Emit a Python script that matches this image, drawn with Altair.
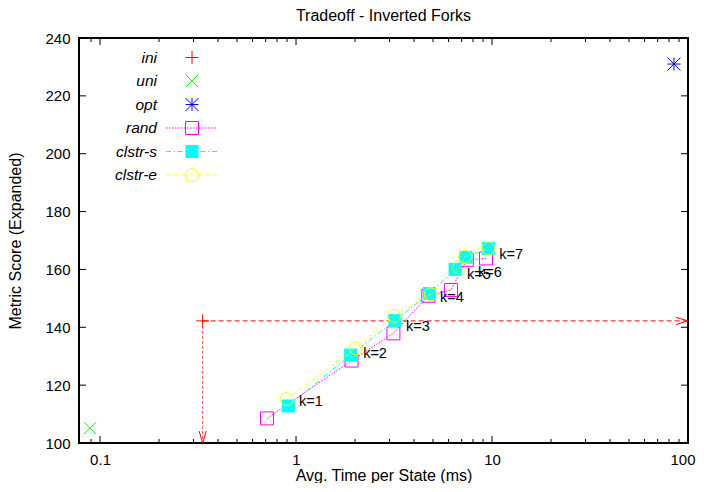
import altair as alt
import pandas as pd

# ---------------- data ----------------
k_labels = ["k=1", "k=2", "k=3", "k=4", "k=5", "k=6", "k=7"]
k_index = [1, 2, 3, 4, 5, 6, 7]

rand_time = [0.711, 1.92, 3.14, 4.73, 6.18, 7.43, 9.32]
rand_score = [108.5, 128.5, 137.9, 150.9, 152.9, 163.3, 163.8]

clstr_s_time = [0.913, 1.90, 3.20, 4.79, 6.48, 7.37, 9.58]
clstr_s_score = [112.8, 130.4, 142.3, 151.7, 160.0, 164.2, 167.3]

clstr_e_time = [0.897, 2.02, 3.16, 4.87, 6.81, 7.28, 9.58]
clstr_e_score = [115.2, 132.7, 144.0, 151.4, 160.7, 164.4, 167.3]

label_time = [1.036, 2.20, 3.64, 5.43, 7.45, 8.48, 10.9]
label_score = [114.2, 130.7, 140.2, 150.0, 158.1, 158.9, 165.0]

ini_time, ini_score = [0.334], [142.2]
uni_time, uni_score = [0.0889], [105.1]
opt_time, opt_score = [84.8], [231.0]

# arrow end values (edges of the axis ranges)
arrow_x_end = [100]
arrow_y_end = [100]

legend_names = ["ini", "uni", "opt", "rand", "clstr-s", "clstr-e"]

x_domain = [0.0781, 100]
y_domain = [100, 240]
x_major = [0.1, 1, 10, 100]
x_minor = [0.09, 0.2, 0.3, 0.4, 0.5, 0.6, 0.7, 0.8, 0.9,
           2, 3, 4, 5, 6, 7, 8, 9,
           20, 30, 40, 50, 60, 70, 80, 90]
y_major = [100, 120, 140, 160, 180, 200, 220, 240]

# ---------------- styling ----------------
W, H = 609, 405
FONT = "Liberation Sans"
FS_TICK = 15
FS_TITLE = 16
FS_LAB = 14.5
FS_KEY = 15.5
RED, GREEN, BLUE = "#ff0000", "#00ff00", "#0000ff"
MAGENTA, CYAN, YELLOW = "#ff00ff", "#00ffff", "#ffff00"
PLUS = "M-1,0L1,0M0,-1L0,1"
CROSS = "M-1,-1L1,1M-1,1L1,-1"
STAR = PLUS + CROSS
ARROW_RIGHT = "M-1,-0.3L0,0L-1,0.3"
ARROW_DOWN = "M-0.3,-1L0,0L0.3,-1"
DASH_RAND = [1.5, 1.5]
DASH_S = [5, 2.5, 1.5, 2.5]
DASH_E = [3, 2, 1, 2]

xscale = alt.Scale(type="log", domain=x_domain, nice=False)
yscale = alt.Scale(domain=y_domain, nice=False, zero=False)
common_axis = dict(ticks=False, domain=False, grid=False,
                   labelFont=FONT, labelFontSize=FS_TICK, labelColor="black",
                   titleFont=FONT, titleFontSize=FS_TITLE, titleFontWeight="normal",
                   titleColor="black")
xaxis = alt.Axis(values=x_major, format="~g", title="Avg. Time per State (ms)",
                 labelPadding=9, titlePadding=0, labelFlush=1, labelFlushOffset=7,
                 **common_axis)
yaxis = alt.Axis(values=y_major, title="Metric Score (Expanded)",
                 labelPadding=9, titlePadding=21, **common_axis)


def X(field="time"):
    return alt.X(f"{field}:Q", scale=xscale, axis=xaxis)


def Y(field="score", axis=None):
    return alt.Y(f"{field}:Q", scale=yscale, axis=axis)


def series_df(t, s):
    return pd.DataFrame({"time": t, "score": s, "k": k_index[:len(t)]})


rand_df = series_df(rand_time, rand_score)
s_df = series_df(clstr_s_time, clstr_s_score)
e_df = series_df(clstr_e_time, clstr_e_score)
lab_df = pd.DataFrame({"time": label_time, "score": label_score, "text": k_labels})
ini_df = pd.DataFrame({"time": ini_time, "score": ini_score,
                       "xend": arrow_x_end, "yend": arrow_y_end})
uni_df = pd.DataFrame({"time": uni_time, "score": uni_score})
opt_df = pd.DataFrame({"time": opt_time, "score": opt_score})

layers = []

# ticks (inward, mirrored)
xmaj_df = pd.DataFrame({"time": x_major})
xmin_df = pd.DataFrame({"time": x_minor})
ymaj_df = pd.DataFrame({"score": y_major})
tick = dict(color="black", strokeWidth=1)
layers.append(alt.Chart(xmaj_df).mark_rule(**tick).encode(
    x=X(), y=alt.value(H), y2=alt.value(H - 7)))
layers.append(alt.Chart(xmaj_df).mark_rule(**tick).encode(
    x=X(), y=alt.value(0), y2=alt.value(7)))
layers.append(alt.Chart(xmin_df).mark_rule(**tick).encode(
    x=X(), y=alt.value(H), y2=alt.value(H - 4)))
layers.append(alt.Chart(xmin_df).mark_rule(**tick).encode(
    x=X(), y=alt.value(0), y2=alt.value(4)))
layers.append(alt.Chart(ymaj_df).mark_rule(**tick).encode(
    y=Y(axis=yaxis), x=alt.value(0), x2=alt.value(7)))
layers.append(alt.Chart(ymaj_df).mark_rule(**tick).encode(
    y=Y(), x=alt.value(W), x2=alt.value(W - 7)))

# ini with arrows
layers.append(alt.Chart(ini_df).mark_rule(color=RED, strokeWidth=1, strokeDash=[5, 3]).encode(
    x=X(), x2="xend:Q", y=Y()))
layers.append(alt.Chart(ini_df).mark_rule(color=RED, strokeWidth=1, strokeDash=[3, 2], opacity=0.75).encode(
    x=X(), y=Y(), y2="yend:Q"))
layers.append(alt.Chart(ini_df).mark_point(shape=ARROW_RIGHT, size=576, filled=False, color=RED,
                                           strokeWidth=1, opacity=1).encode(x=X("xend"), y=Y()))
layers.append(alt.Chart(ini_df).mark_point(shape=ARROW_DOWN, size=576, filled=False, color=RED,
                                           strokeWidth=1, opacity=1).encode(x=X(), y=Y("yend")))
layers.append(alt.Chart(ini_df).mark_point(shape=PLUS, size=169, filled=False, color=RED,
                                           strokeWidth=1, opacity=1).encode(x=X(), y=Y()))
layers.append(alt.Chart(uni_df).mark_point(shape=CROSS, size=144, filled=False, color=GREEN,
                                           strokeWidth=1, opacity=1).encode(x=X(), y=Y()))
layers.append(alt.Chart(opt_df).mark_point(shape=STAR, size=169, filled=False, color=BLUE,
                                           strokeWidth=1, opacity=1).encode(x=X(), y=Y()))

# series
layers.append(alt.Chart(rand_df).mark_line(color=MAGENTA, strokeWidth=1, strokeDash=DASH_RAND).encode(
    x=X(), y=Y(), order="k:Q"))
layers.append(alt.Chart(rand_df).mark_point(shape="square", size=169, filled=False, color=MAGENTA,
                                            strokeWidth=1, opacity=1).encode(x=X(), y=Y()))
layers.append(alt.Chart(s_df).mark_line(color=CYAN, strokeWidth=1, strokeDash=DASH_S).encode(
    x=X(), y=Y(), order="k:Q"))
layers.append(alt.Chart(s_df).mark_point(shape="square", size=169, filled=True, color=CYAN,
                                         opacity=1).encode(x=X(), y=Y()))
layers.append(alt.Chart(e_df).mark_line(color=YELLOW, strokeWidth=1, strokeDash=DASH_E).encode(
    x=X(), y=Y(), order="k:Q"))
layers.append(alt.Chart(e_df).mark_point(shape="circle", size=169, filled=False, color=YELLOW,
                                         strokeWidth=1, opacity=1).encode(x=X(), y=Y()))

# k labels
layers.append(alt.Chart(lab_df).mark_text(align="left", baseline="middle", font=FONT,
                                          fontSize=FS_LAB, color="black").encode(
    x=X(), y=Y(), text="text:N"))

# ---------------- manual key (top-left) ----------------
leg_df = pd.DataFrame({"name": legend_names})
leg_scale = alt.Scale(type="point", domain=legend_names, range=[19.5, 137], padding=0)
LY = alt.Y("name:N", scale=leg_scale, axis=None)
leg_text_x, leg_sym_x, leg_l0, leg_l1 = 78, 113, 87, 138


def leg(name):
    return alt.Chart(leg_df).transform_filter(alt.datum.name == name)


layers.append(alt.Chart(leg_df).mark_text(align="right", baseline="middle", font=FONT, fontSize=FS_KEY,
                                          fontStyle="italic", color="black").encode(
    y=LY, x=alt.value(leg_text_x), text="name:N"))
for name, dash, col in [("rand", DASH_RAND, MAGENTA), ("clstr-s", DASH_S, CYAN), ("clstr-e", DASH_E, YELLOW)]:
    layers.append(leg(name).mark_rule(color=col, strokeWidth=1, strokeDash=dash).encode(
        y=LY, x=alt.value(leg_l0), x2=alt.value(leg_l1)))
sym_defs = [
    ("ini", dict(shape=PLUS, size=169, filled=False, color=RED, strokeWidth=1)),
    ("uni", dict(shape=CROSS, size=144, filled=False, color=GREEN, strokeWidth=1)),
    ("opt", dict(shape=STAR, size=169, filled=False, color=BLUE, strokeWidth=1)),
    ("rand", dict(shape="square", size=169, filled=False, color=MAGENTA, strokeWidth=1)),
    ("clstr-s", dict(shape="square", size=169, filled=True, color=CYAN)),
    ("clstr-e", dict(shape="circle", size=169, filled=False, color=YELLOW, strokeWidth=1)),
]
for name, kw in sym_defs:
    layers.append(leg(name).mark_point(opacity=1, **kw).encode(y=LY, x=alt.value(leg_sym_x)))

chart = alt.layer(*layers).resolve_scale(y="independent").properties(
    width=W, height=H,
    title=alt.TitleParams("Tradeoff - Inverted Forks", font=FONT, fontSize=FS_TITLE,
                          fontWeight="normal", color="black", offset=7),
    padding={"left": 71, "top": 30, "right": 8, "bottom": 40},
    autosize=alt.AutoSizeParams(type="none"),
    background="white",
).configure_view(stroke="black", strokeWidth=2)

chart.save("out.html", embed_options={"renderer": "svg", "actions": False})
